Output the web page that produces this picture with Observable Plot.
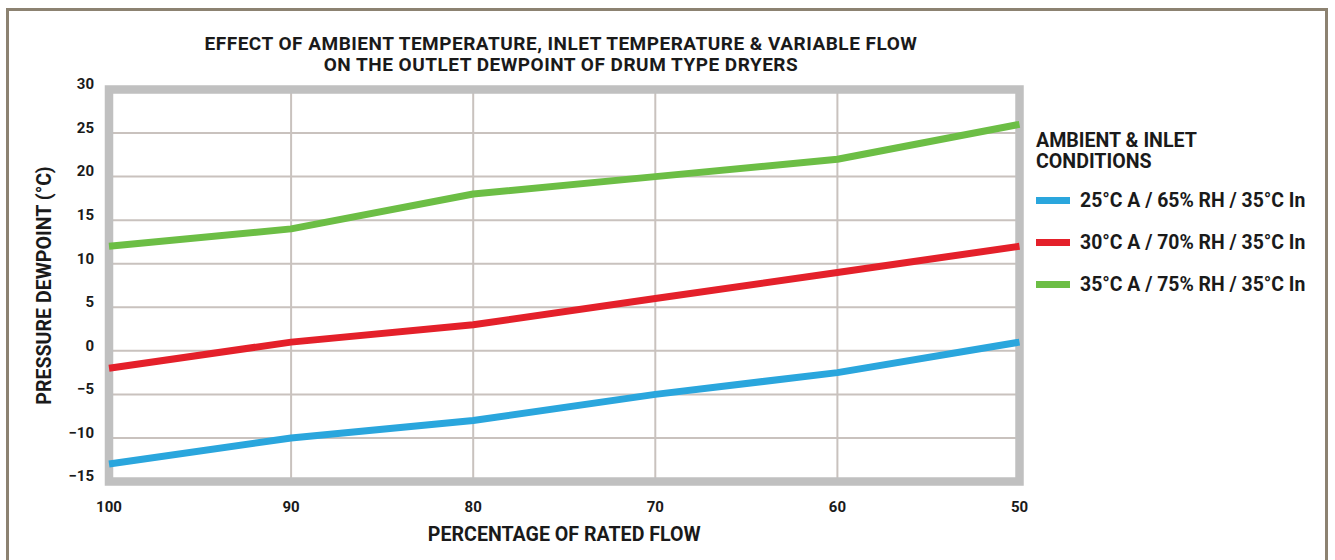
<!DOCTYPE html>
<html>
<head>
<meta charset="utf-8">
<script src="https://cdn.jsdelivr.net/npm/d3@7"></script>
<script src="https://cdn.jsdelivr.net/npm/@observablehq/plot@0.6"></script>
<style>
  html, body { margin: 0; padding: 0; background: #fff; overflow: hidden; }
  body { width: 1335px; height: 560px; position: relative; font-family: Roboto, "DejaVu Sans", sans-serif; font-weight: 700; color: #1a1a1a; }
  #outer { position: absolute; left: 6px; top: 8px; width: 1322px; height: 600px; border: 3px solid #8c8271; box-sizing: border-box; }
  #title { position: absolute; left: 0; width: 1122px; top: 33px; text-align: center; font-size: 19px; line-height: 21px; letter-spacing: 0.5px; }
  #chart { position: absolute; left: 0; top: 0; }
  #legend { position: absolute; left: 1036px; top: 130px; }
  #legend .lt { font-size: 19.6px; line-height: 21px; }
  #legend .item { display: flex; align-items: center; height: 42px; font-size: 19.4px; }
  #legend .sw { width: 34px; height: 7px; margin-right: 10px; }
  #legend .items { margin-top: 7px; }
</style>
</head>
<body>
<div id="outer"></div>
<div id="title">EFFECT OF AMBIENT TEMPERATURE, INLET TEMPERATURE &amp; VARIABLE FLOW<br>ON THE OUTLET DEWPOINT OF DRUM TYPE DRYERS</div>
<div id="chart"></div>
<div id="legend">
  <div class="lt">AMBIENT &amp; INLET<br>CONDITIONS</div>
  <div class="items" id="items"></div>
</div>
<script>
const flow = [100, 90, 80, 70, 60, 50];
const series = ["25°C A / 65% RH / 35°C In", "30°C A / 70% RH / 35°C In", "35°C A / 75% RH / 35°C In"];
const colors = ["#2aa6dd", "#e4202a", "#6cbe45"];
const dew25 = [-13, -10, -8, -5, -2.5, 1];
const dew30 = [-2, 1, 3, 6, 9, 12];
const dew35 = [12, 14, 18, 20, 22, 26];
const xTicks = [100, 90, 80, 70, 60, 50];
const yTicks = [-15, -10, -5, 0, 5, 10, 15, 20, 25, 30];

const seriesValues = [dew25, dew30, dew35];
const data = [];
series.forEach((s, i) => flow.forEach((f, j) => data.push({series: s, flow: f, dew: seriesValues[i][j]})));

const chart = Plot.plot({
  width: 1335,
  height: 560,
  marginLeft: 108.5,
  marginRight: 316,
  marginTop: 89,
  marginBottom: 79,
  style: {fontFamily: "Roboto, 'DejaVu Sans', sans-serif", fontWeight: 700, fontSize: "15px", color: "#1a1a1a", background: "transparent"},
  x: {domain: [100, 50], ticks: xTicks, label: null},
  y: {domain: [-15, 30], ticks: yTicks, label: null},
  color: {domain: series, range: colors},
  marks: [
    Plot.gridX([90, 80, 70, 60], {stroke: "#c9c2be", strokeOpacity: 1, strokeWidth: 2}),
    Plot.gridY([-10, -5, 0, 5, 10, 15, 20, 25], {stroke: "#c9c2be", strokeOpacity: 1, strokeWidth: 2}),
    Plot.frame({stroke: "#c0c0c0", strokeWidth: 8.5}),
    Plot.line(data, {x: "flow", y: "dew", z: "series", stroke: "series", strokeWidth: 7, strokeLinecap: "butt", strokeLinejoin: "round"}),
    Plot.axisX(xTicks, {tickSize: 0, tickPadding: 20, fontSize: 15, fontWeight: 700,
      label: "PERCENTAGE OF RATED FLOW", labelAnchor: "center", labelArrow: "none", labelOffset: 59}),
    Plot.axisY(yTicks, {tickSize: 0, tickPadding: 15, fontSize: 15, fontWeight: 700, dy: -5,
      label: "PRESSURE DEWPOINT (°C)", labelAnchor: "center", labelArrow: "none", labelOffset: 72})
  ]
});
document.getElementById("chart").appendChild(chart);
chart.querySelectorAll("g[aria-label='x-axis label'] text, g[aria-label='y-axis label'] text").forEach(t => t.setAttribute("font-size", "19.6"));

const items = document.getElementById("items");
series.forEach((s, i) => {
  const d = document.createElement("div");
  d.className = "item";
  d.innerHTML = `<span class="sw" style="background:${colors[i]}"></span><span>${s}</span>`;
  items.appendChild(d);
});
</script>
</body>
</html>
